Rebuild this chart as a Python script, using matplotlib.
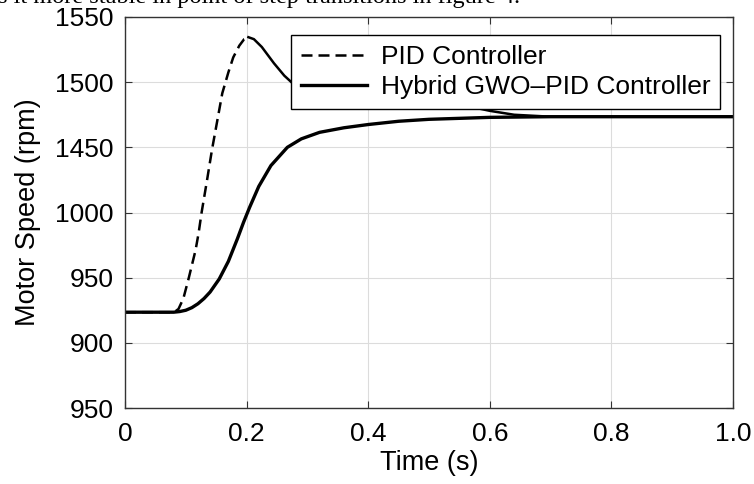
"""Motor speed step response: PID vs hybrid GWO-PID controller."""

import matplotlib
matplotlib.use("Agg")
import matplotlib.pyplot as plt

# y values are in tick-slot units (0..6), matching the printed tick labels
y_tick_labels = ["950", "900", "950", "1000", "1450", "1500", "1550"]
x_ticks = [0, 0.2, 0.4, 0.6, 0.8, 1.0]
x_tick_labels = ["0", "0.2", "0.4", "0.6", "0.8", "1.0"]

pid_rise_t = [0.0, 0.081, 0.088, 0.096, 0.105, 0.116, 0.121, 0.126, 0.135,
              0.143, 0.152, 0.16, 0.17, 0.178, 0.188, 0.196, 0.203]
pid_rise_y = [1.47, 1.47, 1.52, 1.68, 2.0, 2.42, 2.68, 3.0, 3.5,
              3.96, 4.42, 4.83, 5.15, 5.38, 5.56, 5.66, 5.69]
pid_fall_t = [0.203, 0.212, 0.225, 0.245, 0.262, 0.276, 0.3, 0.34, 0.4,
              0.5, 0.56, 0.6, 0.64, 0.7, 1.0]
pid_fall_y = [5.69, 5.66, 5.54, 5.29, 5.1, 4.98, 4.9, 4.82, 4.76,
              4.7, 4.64, 4.56, 4.5, 4.47, 4.47]

hybrid_t = [0.0, 0.08, 0.09, 0.1, 0.11, 0.12, 0.13, 0.14, 0.155, 0.17,
            0.185, 0.195, 0.205, 0.22, 0.24, 0.267, 0.29, 0.32,
            0.36, 0.4, 0.45, 0.5, 0.6, 0.7, 1.0]
hybrid_y = [1.47, 1.47, 1.48, 1.5, 1.54, 1.6, 1.68, 1.78, 1.98, 2.25,
            2.6, 2.85, 3.08, 3.4, 3.72, 4.0, 4.13, 4.23,
            4.3, 4.35, 4.40, 4.43, 4.46, 4.47, 4.47]

plt.rcParams["font.family"] = ["Liberation Sans", "DejaVu Sans"]

fig = plt.figure(figsize=(7.54, 4.84), dpi=100)
ax = fig.add_axes([125 / 754, 76 / 484, 608 / 754, 391 / 484])

ax.plot(pid_rise_t, pid_rise_y, color="black", lw=1.8, ls=(0, (4.4, 2.4)),
        label="PID Controller")
ax.plot(pid_fall_t, pid_fall_y, color="black", lw=1.8)
ax.plot(hybrid_t, hybrid_y, color="black", lw=2.4,
        label="Hybrid GWO\u2013PID Controller")

ax.set_xlim(0, 1.0)
ax.set_ylim(0, 6)
ax.set_xticks(x_ticks)
ax.set_xticklabels(x_tick_labels)
ax.set_yticks(range(len(y_tick_labels)))
ax.set_yticklabels(y_tick_labels)
ax.tick_params(direction="in", top=True, right=True, labelsize=19,
               length=5, width=0.8, color="#333333")
ax.tick_params(axis="x", pad=10)
ax.tick_params(axis="y", pad=8)
ax.grid(True, color="#dcdcdc", lw=0.8)
for sp in ax.spines.values():
    sp.set_color("#333333")
    sp.set_linewidth(1.0)

ax.set_xlabel("Time (s)", fontsize=19.5, labelpad=3)
ax.set_ylabel("Motor Speed (rpm)", fontsize=19.5, labelpad=10)

leg = ax.legend(loc="upper right", bbox_to_anchor=(0.979, 0.954),
                borderaxespad=0, fontsize=19, fancybox=False,
                handlelength=2.5, handletextpad=0.5, borderpad=0.38,
                labelspacing=0.22, framealpha=1)
leg.get_frame().set_edgecolor("black")
leg.get_frame().set_linewidth(1.0)

# clipped line of body text from the scanned page above the figure
fig.text(-0.003, 1 - 3 / 484, "s it more stable in point of step transitions in figure 4.",
         family="Liberation Serif", fontsize=17.5, va="baseline", ha="left")

fig.savefig("out.png", dpi=100)
